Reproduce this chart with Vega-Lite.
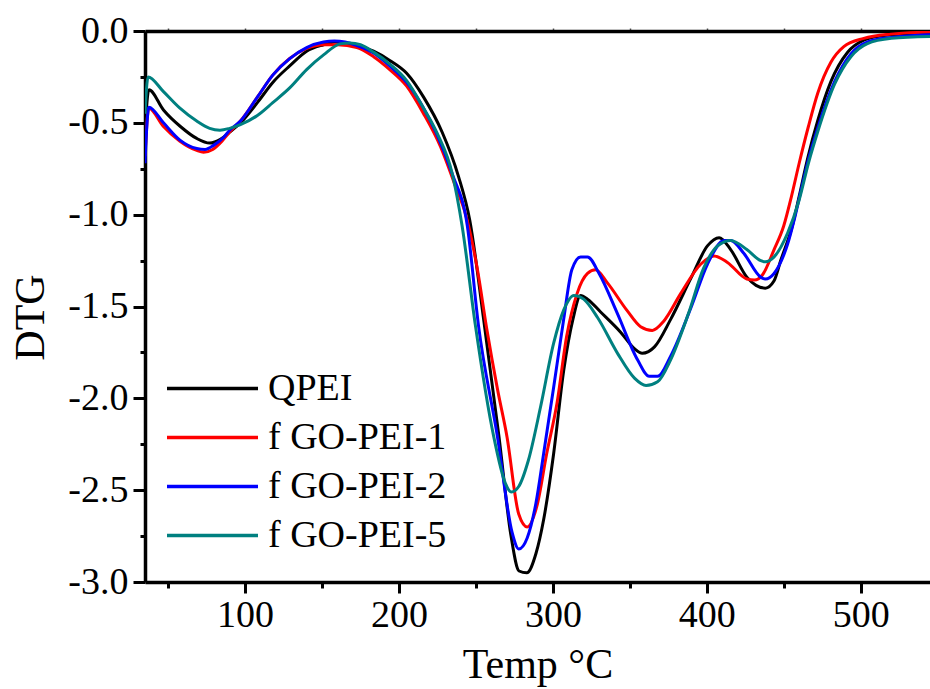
{
"$schema":"https://vega.github.io/schema/vega-lite/v6.json",
"width":785,"height":551,"autosize":"none",
"padding":{"left":145,"top":31,"right":0,"bottom":107},
"background":"white",
"config":{"view":{"stroke":null},"font":"Liberation Serif","style":{"guide-label":{"font":"Liberation Serif"},"guide-title":{"font":"Liberation Serif"}},"legend":{"labelFont":"Liberation Serif"},"axis":{"domainColor":"black","tickColor":"black","labelColor":"black","titleColor":"black","grid":false,"labelFont":"Liberation Serif","titleFont":"Liberation Serif"}},
"datasets":{"d":[
{"s":"QPEI","T":35,"v":-0.55},{"s":"QPEI","T":37.5,"v":-0.32},{"s":"QPEI","T":47,"v":-0.43},{"s":"QPEI","T":58,"v":-0.52},{"s":"QPEI","T":68.6,"v":-0.585},{"s":"QPEI","T":77,"v":-0.61},{"s":"QPEI","T":84,"v":-0.59},{"s":"QPEI","T":90,"v":-0.55},{"s":"QPEI","T":97,"v":-0.5},{"s":"QPEI","T":108,"v":-0.39},{"s":"QPEI","T":118,"v":-0.28},{"s":"QPEI","T":129,"v":-0.19},{"s":"QPEI","T":140,"v":-0.11},{"s":"QPEI","T":151,"v":-0.075},{"s":"QPEI","T":158,"v":-0.06},{"s":"QPEI","T":165,"v":-0.065},{"s":"QPEI","T":173,"v":-0.08},{"s":"QPEI","T":183.5,"v":-0.11},{"s":"QPEI","T":194,"v":-0.16},{"s":"QPEI","T":205,"v":-0.23},{"s":"QPEI","T":216,"v":-0.36},{"s":"QPEI","T":228,"v":-0.55},{"s":"QPEI","T":238.6,"v":-0.79},{"s":"QPEI","T":246,"v":-1.03},{"s":"QPEI","T":255,"v":-1.57},{"s":"QPEI","T":265,"v":-2.21},{"s":"QPEI","T":272.8,"v":-2.75},{"s":"QPEI","T":278,"v":-2.94},{"s":"QPEI","T":283,"v":-2.95},{"s":"QPEI","T":289,"v":-2.845},{"s":"QPEI","T":294,"v":-2.66},{"s":"QPEI","T":300.5,"v":-2.3},{"s":"QPEI","T":307,"v":-1.85},{"s":"QPEI","T":313,"v":-1.57},{"s":"QPEI","T":318,"v":-1.44},{"s":"QPEI","T":322.5,"v":-1.46},{"s":"QPEI","T":331,"v":-1.53},{"s":"QPEI","T":344,"v":-1.64},{"s":"QPEI","T":353,"v":-1.73},{"s":"QPEI","T":358,"v":-1.755},{"s":"QPEI","T":366,"v":-1.72},{"s":"QPEI","T":376.5,"v":-1.57},{"s":"QPEI","T":390,"v":-1.34},{"s":"QPEI","T":400.4,"v":-1.17},{"s":"QPEI","T":408,"v":-1.125},{"s":"QPEI","T":415.5,"v":-1.19},{"s":"QPEI","T":426,"v":-1.34},{"s":"QPEI","T":432,"v":-1.385},{"s":"QPEI","T":438,"v":-1.4},{"s":"QPEI","T":443.7,"v":-1.36},{"s":"QPEI","T":448,"v":-1.25},{"s":"QPEI","T":455.6,"v":-1.06},{"s":"QPEI","T":460,"v":-0.9},{"s":"QPEI","T":465.6,"v":-0.69},{"s":"QPEI","T":472,"v":-0.49},{"s":"QPEI","T":480.6,"v":-0.276},{"s":"QPEI","T":491.5,"v":-0.116},{"s":"QPEI","T":502,"v":-0.05},{"s":"QPEI","T":515,"v":-0.025},{"s":"QPEI","T":530,"v":-0.017},{"s":"QPEI","T":545,"v":-0.015},
{"s":"f GO-PEI-1","T":35,"v":-0.68},{"s":"f GO-PEI-1","T":37.5,"v":-0.42},{"s":"f GO-PEI-1","T":47,"v":-0.52},{"s":"f GO-PEI-1","T":57.7,"v":-0.6},{"s":"f GO-PEI-1","T":68.6,"v":-0.65},{"s":"f GO-PEI-1","T":73,"v":-0.66},{"s":"f GO-PEI-1","T":79,"v":-0.645},{"s":"f GO-PEI-1","T":85,"v":-0.6},{"s":"f GO-PEI-1","T":90,"v":-0.55},{"s":"f GO-PEI-1","T":97,"v":-0.49},{"s":"f GO-PEI-1","T":108,"v":-0.36},{"s":"f GO-PEI-1","T":118,"v":-0.24},{"s":"f GO-PEI-1","T":129,"v":-0.15},{"s":"f GO-PEI-1","T":140,"v":-0.095},{"s":"f GO-PEI-1","T":151,"v":-0.075},{"s":"f GO-PEI-1","T":160,"v":-0.075},{"s":"f GO-PEI-1","T":172.7,"v":-0.09},{"s":"f GO-PEI-1","T":183.5,"v":-0.14},{"s":"f GO-PEI-1","T":194,"v":-0.21},{"s":"f GO-PEI-1","T":205,"v":-0.3},{"s":"f GO-PEI-1","T":216,"v":-0.45},{"s":"f GO-PEI-1","T":227,"v":-0.63},{"s":"f GO-PEI-1","T":236,"v":-0.83},{"s":"f GO-PEI-1","T":244,"v":-1.02},{"s":"f GO-PEI-1","T":251,"v":-1.3},{"s":"f GO-PEI-1","T":257,"v":-1.62},{"s":"f GO-PEI-1","T":264,"v":-1.95},{"s":"f GO-PEI-1","T":270.2,"v":-2.21},{"s":"f GO-PEI-1","T":277.8,"v":-2.63},{"s":"f GO-PEI-1","T":283.3,"v":-2.7},{"s":"f GO-PEI-1","T":289.5,"v":-2.59},{"s":"f GO-PEI-1","T":296,"v":-2.3},{"s":"f GO-PEI-1","T":302.6,"v":-2.03},{"s":"f GO-PEI-1","T":309,"v":-1.66},{"s":"f GO-PEI-1","T":315.7,"v":-1.43},{"s":"f GO-PEI-1","T":322.5,"v":-1.32},{"s":"f GO-PEI-1","T":327.7,"v":-1.3},{"s":"f GO-PEI-1","T":335.3,"v":-1.37},{"s":"f GO-PEI-1","T":348,"v":-1.52},{"s":"f GO-PEI-1","T":357,"v":-1.61},{"s":"f GO-PEI-1","T":364.6,"v":-1.63},{"s":"f GO-PEI-1","T":372,"v":-1.58},{"s":"f GO-PEI-1","T":383,"v":-1.43},{"s":"f GO-PEI-1","T":396,"v":-1.27},{"s":"f GO-PEI-1","T":404.7,"v":-1.225},{"s":"f GO-PEI-1","T":413.4,"v":-1.26},{"s":"f GO-PEI-1","T":426,"v":-1.35},{"s":"f GO-PEI-1","T":431,"v":-1.356},{"s":"f GO-PEI-1","T":436,"v":-1.33},{"s":"f GO-PEI-1","T":443.7,"v":-1.19},{"s":"f GO-PEI-1","T":450,"v":-1.06},{"s":"f GO-PEI-1","T":455,"v":-0.9},{"s":"f GO-PEI-1","T":460,"v":-0.72},{"s":"f GO-PEI-1","T":466,"v":-0.52},{"s":"f GO-PEI-1","T":472,"v":-0.34},{"s":"f GO-PEI-1","T":480.6,"v":-0.17},{"s":"f GO-PEI-1","T":489,"v":-0.085},{"s":"f GO-PEI-1","T":502,"v":-0.04},{"s":"f GO-PEI-1","T":519.7,"v":-0.017},{"s":"f GO-PEI-1","T":545,"v":-0.006},
{"s":"f GO-PEI-2","T":35,"v":-0.72},{"s":"f GO-PEI-2","T":37.5,"v":-0.415},{"s":"f GO-PEI-2","T":47,"v":-0.5},{"s":"f GO-PEI-2","T":57.7,"v":-0.594},{"s":"f GO-PEI-2","T":68.6,"v":-0.64},{"s":"f GO-PEI-2","T":74,"v":-0.645},{"s":"f GO-PEI-2","T":80,"v":-0.62},{"s":"f GO-PEI-2","T":86,"v":-0.58},{"s":"f GO-PEI-2","T":90,"v":-0.54},{"s":"f GO-PEI-2","T":97,"v":-0.49},{"s":"f GO-PEI-2","T":108,"v":-0.36},{"s":"f GO-PEI-2","T":118,"v":-0.24},{"s":"f GO-PEI-2","T":129,"v":-0.15},{"s":"f GO-PEI-2","T":140,"v":-0.09},{"s":"f GO-PEI-2","T":151,"v":-0.06},{"s":"f GO-PEI-2","T":158,"v":-0.055},{"s":"f GO-PEI-2","T":165,"v":-0.06},{"s":"f GO-PEI-2","T":172.7,"v":-0.08},{"s":"f GO-PEI-2","T":183.5,"v":-0.12},{"s":"f GO-PEI-2","T":194,"v":-0.19},{"s":"f GO-PEI-2","T":205,"v":-0.28},{"s":"f GO-PEI-2","T":216,"v":-0.42},{"s":"f GO-PEI-2","T":224,"v":-0.55},{"s":"f GO-PEI-2","T":234.7,"v":-0.78},{"s":"f GO-PEI-2","T":244.4,"v":-1.06},{"s":"f GO-PEI-2","T":251.6,"v":-1.6},{"s":"f GO-PEI-2","T":264,"v":-2.21},{"s":"f GO-PEI-2","T":273.5,"v":-2.73},{"s":"f GO-PEI-2","T":277.8,"v":-2.82},{"s":"f GO-PEI-2","T":283.3,"v":-2.76},{"s":"f GO-PEI-2","T":289,"v":-2.57},{"s":"f GO-PEI-2","T":294,"v":-2.3},{"s":"f GO-PEI-2","T":300.5,"v":-1.94},{"s":"f GO-PEI-2","T":307,"v":-1.57},{"s":"f GO-PEI-2","T":312.3,"v":-1.3},{"s":"f GO-PEI-2","T":318,"v":-1.23},{"s":"f GO-PEI-2","T":322.5,"v":-1.23},{"s":"f GO-PEI-2","T":330,"v":-1.32},{"s":"f GO-PEI-2","T":342,"v":-1.54},{"s":"f GO-PEI-2","T":355,"v":-1.79},{"s":"f GO-PEI-2","T":362.6,"v":-1.88},{"s":"f GO-PEI-2","T":368,"v":-1.88},{"s":"f GO-PEI-2","T":376.5,"v":-1.77},{"s":"f GO-PEI-2","T":390,"v":-1.5},{"s":"f GO-PEI-2","T":400.4,"v":-1.27},{"s":"f GO-PEI-2","T":411.3,"v":-1.14},{"s":"f GO-PEI-2","T":415.5,"v":-1.14},{"s":"f GO-PEI-2","T":424,"v":-1.21},{"s":"f GO-PEI-2","T":435,"v":-1.34},{"s":"f GO-PEI-2","T":438,"v":-1.35},{"s":"f GO-PEI-2","T":443.7,"v":-1.32},{"s":"f GO-PEI-2","T":450,"v":-1.22},{"s":"f GO-PEI-2","T":452.5,"v":-1.16},{"s":"f GO-PEI-2","T":457,"v":-1.02},{"s":"f GO-PEI-2","T":461,"v":-0.875},{"s":"f GO-PEI-2","T":466,"v":-0.7},{"s":"f GO-PEI-2","T":472,"v":-0.53},{"s":"f GO-PEI-2","T":483,"v":-0.276},{"s":"f GO-PEI-2","T":493.6,"v":-0.125},{"s":"f GO-PEI-2","T":504.5,"v":-0.06},{"s":"f GO-PEI-2","T":520,"v":-0.035},{"s":"f GO-PEI-2","T":545,"v":-0.02},
{"s":"f GO-PEI-5","T":35,"v":-0.45},{"s":"f GO-PEI-5","T":37,"v":-0.25},{"s":"f GO-PEI-5","T":47,"v":-0.33},{"s":"f GO-PEI-5","T":57.7,"v":-0.42},{"s":"f GO-PEI-5","T":68.6,"v":-0.49},{"s":"f GO-PEI-5","T":77,"v":-0.53},{"s":"f GO-PEI-5","T":83.7,"v":-0.54},{"s":"f GO-PEI-5","T":90,"v":-0.53},{"s":"f GO-PEI-5","T":97,"v":-0.51},{"s":"f GO-PEI-5","T":108,"v":-0.46},{"s":"f GO-PEI-5","T":118,"v":-0.39},{"s":"f GO-PEI-5","T":129,"v":-0.31},{"s":"f GO-PEI-5","T":140,"v":-0.21},{"s":"f GO-PEI-5","T":151,"v":-0.13},{"s":"f GO-PEI-5","T":161.8,"v":-0.07},{"s":"f GO-PEI-5","T":168,"v":-0.065},{"s":"f GO-PEI-5","T":175,"v":-0.075},{"s":"f GO-PEI-5","T":183.5,"v":-0.115},{"s":"f GO-PEI-5","T":194,"v":-0.18},{"s":"f GO-PEI-5","T":205,"v":-0.27},{"s":"f GO-PEI-5","T":216,"v":-0.42},{"s":"f GO-PEI-5","T":225,"v":-0.56},{"s":"f GO-PEI-5","T":234.7,"v":-0.78},{"s":"f GO-PEI-5","T":241,"v":-1.06},{"s":"f GO-PEI-5","T":249.6,"v":-1.6},{"s":"f GO-PEI-5","T":261.6,"v":-2.21},{"s":"f GO-PEI-5","T":269,"v":-2.46},{"s":"f GO-PEI-5","T":273,"v":-2.51},{"s":"f GO-PEI-5","T":277.8,"v":-2.48},{"s":"f GO-PEI-5","T":284,"v":-2.34},{"s":"f GO-PEI-5","T":291.9,"v":-2.05},{"s":"f GO-PEI-5","T":300.5,"v":-1.7},{"s":"f GO-PEI-5","T":307,"v":-1.52},{"s":"f GO-PEI-5","T":313.6,"v":-1.44},{"s":"f GO-PEI-5","T":320,"v":-1.46},{"s":"f GO-PEI-5","T":329,"v":-1.56},{"s":"f GO-PEI-5","T":342,"v":-1.755},{"s":"f GO-PEI-5","T":353,"v":-1.89},{"s":"f GO-PEI-5","T":360.5,"v":-1.93},{"s":"f GO-PEI-5","T":368,"v":-1.91},{"s":"f GO-PEI-5","T":376.5,"v":-1.79},{"s":"f GO-PEI-5","T":388,"v":-1.54},{"s":"f GO-PEI-5","T":398,"v":-1.29},{"s":"f GO-PEI-5","T":407,"v":-1.17},{"s":"f GO-PEI-5","T":415.5,"v":-1.14},{"s":"f GO-PEI-5","T":426,"v":-1.19},{"s":"f GO-PEI-5","T":435,"v":-1.25},{"s":"f GO-PEI-5","T":438,"v":-1.257},{"s":"f GO-PEI-5","T":443.7,"v":-1.23},{"s":"f GO-PEI-5","T":452.5,"v":-1.1},{"s":"f GO-PEI-5","T":460,"v":-0.92},{"s":"f GO-PEI-5","T":466,"v":-0.72},{"s":"f GO-PEI-5","T":472,"v":-0.55},{"s":"f GO-PEI-5","T":483,"v":-0.29},{"s":"f GO-PEI-5","T":493.6,"v":-0.14},{"s":"f GO-PEI-5","T":504,"v":-0.07},{"s":"f GO-PEI-5","T":520,"v":-0.04},{"s":"f GO-PEI-5","T":545,"v":-0.03}
]},
"data":{"name":"d"},
"layer":[
{"mark":{"type":"line","strokeWidth":3,"clip":true,"interpolate":"monotone"},
 "encoding":{
  "x":{"field":"T","type":"quantitative","scale":{"domain":[35,545],"nice":false,"zero":false},
   "axis":{"orient":"bottom","values":[100,200,300,400,500],"format":"d","labelFont":"Liberation Serif","labelFontSize":38,"labelFlush":false,"labelOverlap":false,"tickSize":11,"tickWidth":3,"domainWidth":3.5,"labelPadding":3,"title":"Temp °C","titleFont":"Liberation Serif","titleFontSize":42,"titleFontWeight":"normal","titleY":95,"titleBaseline":"alphabetic"}},
  "y":{"field":"v","type":"quantitative","scale":{"domain":[-3,0],"nice":false,"zero":false},
   "axis":{"orient":"left","values":[0,-0.5,-1,-1.5,-2,-2.5,-3],"labelExpr":"replace(format(datum.value,'.1f'),'\u2212','-')","labelFont":"Liberation Serif","labelFontSize":38,"labelFlush":false,"labelOverlap":false,"tickSize":12,"tickWidth":3,"domainWidth":3.5,"labelPadding":5,"title":"DTG","titleFont":"Liberation Serif","titleFontSize":42,"titleFontWeight":"normal","titleAngle":-90,"titleX":-115,"titleY":286,"titleBaseline":"middle","titleAlign":"center"}},
  "color":{"field":"s","type":"nominal","scale":{"domain":["QPEI","f GO-PEI-1","f GO-PEI-2","f GO-PEI-5"],"range":["#000000","#ff0000","#0000ff","#008080"]},
   "legend":{"orient":"none","legendX":20,"legendY":333,"title":null,"symbolType":"stroke","symbolSize":8281,"symbolStrokeWidth":3.5,"labelFont":"Liberation Serif","labelFontSize":38,"labelColor":"black","clipHeight":49,"rowPadding":0,"padding":0,"labelOffset":8,"labelLimit":400}}
 }},
{"mark":{"type":"point","opacity":0},
 "encoding":{
  "x":{"field":"T","type":"quantitative","axis":{"orient":"bottom","values":[50,150,250,350,450],"labels":false,"domain":false,"tickSize":6,"tickWidth":3,"title":null}},
  "y":{"field":"v","type":"quantitative","axis":{"orient":"left","values":[-0.25,-0.75,-1.25,-1.75,-2.25,-2.75],"labels":false,"domain":false,"tickSize":5,"tickWidth":3,"title":null}}
 }},
{"mark":{"type":"point","opacity":0},
 "encoding":{
  "x":{"field":"T","type":"quantitative","axis":{"orient":"top","values":[50,100,150,200,250,300,350,400,450,500],"labels":false,"domainWidth":3.5,"tickSize":3,"tickWidth":1.5,"tickColor":"#555555","title":null}},
  "y":{"field":"v","type":"quantitative","axis":null}
 }}
],
"resolve":{"axis":{"x":"independent","y":"independent"}}
}
